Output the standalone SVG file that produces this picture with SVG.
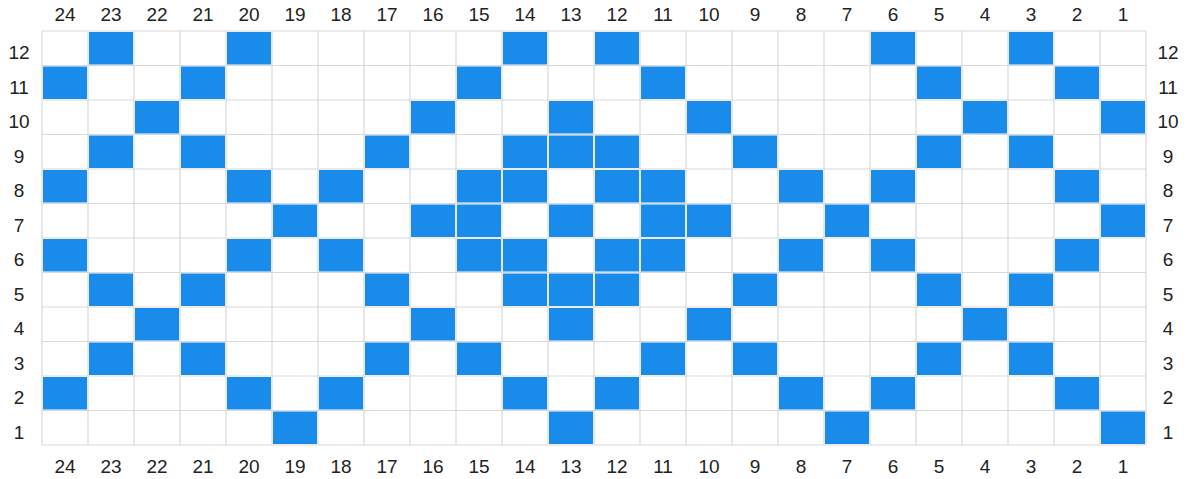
<svg xmlns="http://www.w3.org/2000/svg" xmlns:xlink="http://www.w3.org/1999/xlink" width="1187" height="479" viewBox="0 0 1187 479">
<style>
.grid{stroke:#d9d9d9;stroke-width:1.2;fill:none}
.b{fill:#198CEB}
.lbl{font-family:"Liberation Sans",Arial,sans-serif;font-size:19px;fill:#222;text-anchor:middle}
</style>
<defs>
<rect id="b" class="b" width="44" height="32.5"/>
</defs>
<rect width="1187" height="479" fill="#fff"/>
<g id="grid">
<path class="grid" d="M42 31V445M88 31V445M134 31V445M180 31V445M226 31V445M272 31V445M318 31V445M364 31V445M410 31V445M456 31V445M502 31V445M548 31V445M594 31V445M640 31V445M686 31V445M732 31V445M778 31V445M824 31V445M870 31V445M916 31V445M962 31V445M1008 31V445M1054 31V445M1100 31V445M1146 31V445M42 31H1146M42 65.5H1146M42 100H1146M42 134.5H1146M42 169H1146M42 203.5H1146M42 238H1146M42 272.5H1146M42 307H1146M42 341.5H1146M42 376H1146M42 410.5H1146M42 445H1146"/>
</g>
<g id="cells">
<use href="#b" x="89" y="32"/><use href="#b" x="227" y="32"/><use href="#b" x="503" y="32"/><use href="#b" x="595" y="32"/><use href="#b" x="871" y="32"/><use href="#b" x="1009" y="32"/>
<use href="#b" x="43" y="66.5"/><use href="#b" x="181" y="66.5"/><use href="#b" x="457" y="66.5"/><use href="#b" x="641" y="66.5"/><use href="#b" x="917" y="66.5"/><use href="#b" x="1055" y="66.5"/>
<use href="#b" x="135" y="101"/><use href="#b" x="411" y="101"/><use href="#b" x="549" y="101"/><use href="#b" x="687" y="101"/><use href="#b" x="963" y="101"/><use href="#b" x="1101" y="101"/>
<use href="#b" x="89" y="135.5"/><use href="#b" x="181" y="135.5"/><use href="#b" x="365" y="135.5"/><use href="#b" x="503" y="135.5"/><use href="#b" x="549" y="135.5"/><use href="#b" x="595" y="135.5"/><use href="#b" x="733" y="135.5"/><use href="#b" x="917" y="135.5"/><use href="#b" x="1009" y="135.5"/>
<use href="#b" x="43" y="170"/><use href="#b" x="227" y="170"/><use href="#b" x="319" y="170"/><use href="#b" x="457" y="170"/><use href="#b" x="503" y="170"/><use href="#b" x="595" y="170"/><use href="#b" x="641" y="170"/><use href="#b" x="779" y="170"/><use href="#b" x="871" y="170"/><use href="#b" x="1055" y="170"/>
<use href="#b" x="273" y="204.5"/><use href="#b" x="411" y="204.5"/><use href="#b" x="457" y="204.5"/><use href="#b" x="549" y="204.5"/><use href="#b" x="641" y="204.5"/><use href="#b" x="687" y="204.5"/><use href="#b" x="825" y="204.5"/><use href="#b" x="1101" y="204.5"/>
<use href="#b" x="43" y="239"/><use href="#b" x="227" y="239"/><use href="#b" x="319" y="239"/><use href="#b" x="457" y="239"/><use href="#b" x="503" y="239"/><use href="#b" x="595" y="239"/><use href="#b" x="641" y="239"/><use href="#b" x="779" y="239"/><use href="#b" x="871" y="239"/><use href="#b" x="1055" y="239"/>
<use href="#b" x="89" y="273.5"/><use href="#b" x="181" y="273.5"/><use href="#b" x="365" y="273.5"/><use href="#b" x="503" y="273.5"/><use href="#b" x="549" y="273.5"/><use href="#b" x="595" y="273.5"/><use href="#b" x="733" y="273.5"/><use href="#b" x="917" y="273.5"/><use href="#b" x="1009" y="273.5"/>
<use href="#b" x="135" y="308"/><use href="#b" x="411" y="308"/><use href="#b" x="549" y="308"/><use href="#b" x="687" y="308"/><use href="#b" x="963" y="308"/>
<use href="#b" x="89" y="342.5"/><use href="#b" x="181" y="342.5"/><use href="#b" x="365" y="342.5"/><use href="#b" x="457" y="342.5"/><use href="#b" x="641" y="342.5"/><use href="#b" x="733" y="342.5"/><use href="#b" x="917" y="342.5"/><use href="#b" x="1009" y="342.5"/>
<use href="#b" x="43" y="377"/><use href="#b" x="227" y="377"/><use href="#b" x="319" y="377"/><use href="#b" x="503" y="377"/><use href="#b" x="595" y="377"/><use href="#b" x="779" y="377"/><use href="#b" x="871" y="377"/><use href="#b" x="1055" y="377"/>
<use href="#b" x="273" y="411.5"/><use href="#b" x="549" y="411.5"/><use href="#b" x="825" y="411.5"/><use href="#b" x="1101" y="411.5"/>
</g>
<g id="col-labels-top" class="lbl">
<text x="65" y="20.5">24</text><text x="111" y="20.5">23</text><text x="157" y="20.5">22</text><text x="203" y="20.5">21</text><text x="249" y="20.5">20</text><text x="295" y="20.5">19</text><text x="341" y="20.5">18</text><text x="387" y="20.5">17</text><text x="433" y="20.5">16</text><text x="479" y="20.5">15</text><text x="525" y="20.5">14</text><text x="571" y="20.5">13</text><text x="617" y="20.5">12</text><text x="663" y="20.5">11</text><text x="709" y="20.5">10</text><text x="755" y="20.5">9</text><text x="801" y="20.5">8</text><text x="847" y="20.5">7</text><text x="893" y="20.5">6</text><text x="939" y="20.5">5</text><text x="985" y="20.5">4</text><text x="1031" y="20.5">3</text><text x="1077" y="20.5">2</text><text x="1123" y="20.5">1</text>
</g>
<g id="col-labels-bottom" class="lbl">
<text x="65" y="472.5">24</text><text x="111" y="472.5">23</text><text x="157" y="472.5">22</text><text x="203" y="472.5">21</text><text x="249" y="472.5">20</text><text x="295" y="472.5">19</text><text x="341" y="472.5">18</text><text x="387" y="472.5">17</text><text x="433" y="472.5">16</text><text x="479" y="472.5">15</text><text x="525" y="472.5">14</text><text x="571" y="472.5">13</text><text x="617" y="472.5">12</text><text x="663" y="472.5">11</text><text x="709" y="472.5">10</text><text x="755" y="472.5">9</text><text x="801" y="472.5">8</text><text x="847" y="472.5">7</text><text x="893" y="472.5">6</text><text x="939" y="472.5">5</text><text x="985" y="472.5">4</text><text x="1031" y="472.5">3</text><text x="1077" y="472.5">2</text><text x="1123" y="472.5">1</text>
</g>
<g id="row-labels-left" class="lbl">
<text x="19" y="59">12</text><text x="19" y="93.5">11</text><text x="19" y="128">10</text><text x="19" y="162.5">9</text><text x="19" y="197">8</text><text x="19" y="231.5">7</text><text x="19" y="266">6</text><text x="19" y="300.5">5</text><text x="19" y="335">4</text><text x="19" y="369.5">3</text><text x="19" y="404">2</text><text x="19" y="438.5">1</text>
</g>
<g id="row-labels-right" class="lbl">
<text x="1168" y="59">12</text><text x="1168" y="93.5">11</text><text x="1168" y="128">10</text><text x="1168" y="162.5">9</text><text x="1168" y="197">8</text><text x="1168" y="231.5">7</text><text x="1168" y="266">6</text><text x="1168" y="300.5">5</text><text x="1168" y="335">4</text><text x="1168" y="369.5">3</text><text x="1168" y="404">2</text><text x="1168" y="438.5">1</text>
</g>
</svg>
